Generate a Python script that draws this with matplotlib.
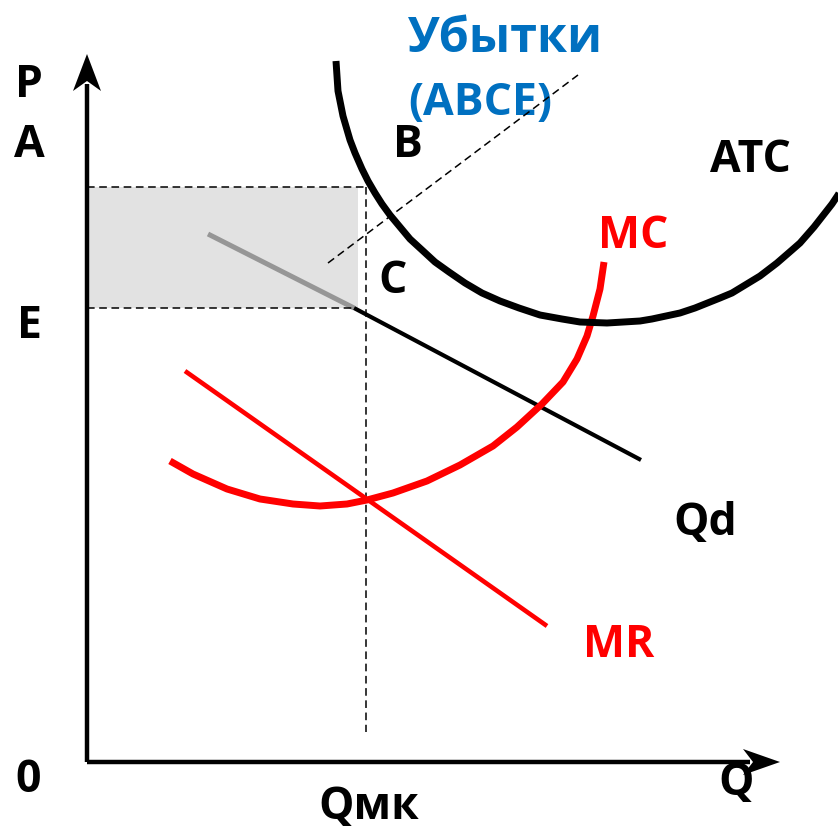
import matplotlib
matplotlib.use('Agg')
from matplotlib import pyplot as plt
from matplotlib.patches import Rectangle

plt.rcParams['font.family'] = ['Open Sans', 'DejaVu Sans']
plt.rcParams['font.weight'] = 'bold'

# кривая ATC (средние общие издержки), точки
atc_q = [249, 251, 256, 263, 268, 275, 281, 288, 295, 303, 313, 323, 335, 348,
         362, 378, 395, 413, 432, 453, 475, 493, 520, 553, 565, 593, 608, 633,
         645, 673, 690, 705, 713, 727, 745, 751, 759]
atc_p = [701, 671, 646, 622, 609, 593, 581, 569, 558, 547, 535, 523, 512, 500,
         490, 479, 469, 461, 454, 447, 443, 440, 439, 441, 443, 449, 454, 464,
         469, 486, 499, 512, 519, 535, 558, 567, 581]

# кривая MC (предельные издержки)
mc_q = [83, 106, 140, 173, 206, 233, 260, 280, 306, 340, 373, 406, 430, 455,
        476, 490, 500, 506, 513, 517]
mc_p = [301, 288, 273, 263, 258, 256, 258, 262, 269, 281, 297, 316, 335, 358,
        380, 403, 426, 446, 473, 500]

# MR (предельный доход)
mr_q = [98, 460]
mr_p = [391, 136]

# спрос Qd: серая часть внутри прямоугольника и чёрная дальше
qd_grey_q = [121, 267]
qd_grey_p = [528, 454]
qd_q = [267, 554]
qd_p = [454, 302]

# уровни: объём Qмк, цена A (ATC) и цена E
q_mk = 279
p_a = 575
p_e = 454
rect_right = 271

# пунктир-выноска к надписи "Убытки"
note_q = [241, 491]
note_p = [499, 687]

q_max = 693
p_max = 708

labels = [
    ('P', -72, 666, 'black'),
    ('A', -73, 606, 'black'),
    ('E', -70, 425, 'black'),
    ('0', -72, -29, 'black'),
    ('B', 306, 606, 'black'),
    ('C', 291, 470, 'black'),
    ('ATC', 623, 591, 'black'),
    ('MC', 511, 515, 'red'),
    ('Qd', 586, 228, 'black'),
    ('MR', 496, 106, 'red'),
    ('Q', 631, -32, 'black'),
    ('Qмк', 231, -56, 'black'),
]

fig = plt.figure(figsize=(8.38, 8.29), dpi=100)
ax = fig.add_axes([0, 0, 1, 1])
ax.set_xlim(-87, 751)
ax.set_ylim(-66, 763)
ax.axis('off')

# прямоугольник убытков ABCE
ax.add_patch(Rectangle((0, p_e), rect_right, p_a - p_e, facecolor='#e2e2e2',
                       edgecolor='none', zorder=1))
ax.plot([0, q_mk], [p_a, p_a], color='black', lw=1.1, dashes=(5, 3), zorder=3)
ax.plot([0, qd_q[0]], [p_e, p_e], color='black', lw=1.1, dashes=(5, 3), zorder=3)
ax.plot([q_mk, q_mk], [p_a, 30], color='black', lw=1.1, dashes=(5, 3), zorder=3)
ax.plot(note_q, note_p, color='black', lw=1.1, dashes=(5, 3), zorder=6)

# кривые
ax.plot(qd_grey_q, qd_grey_p, color='#969696', lw=3.6, solid_capstyle='butt', zorder=2)
ax.plot(qd_q, qd_p, color='black', lw=3.0, solid_capstyle='butt', zorder=2)
ax.plot(mr_q, mr_p, color='#ff0000', lw=3.3, solid_capstyle='butt', zorder=3)
ax.plot(mc_q, mc_p, color='#ff0000', lw=5, solid_capstyle='butt',
        solid_joinstyle='round', zorder=4)
ax.plot(atc_q, atc_p, color='black', lw=5, solid_capstyle='butt',
        solid_joinstyle='round', zorder=4)

# оси со стрелками
ax.plot([0, 0], [0, p_max - 30], color='black', lw=3.2, solid_capstyle='butt', zorder=5)
ax.plot([0, q_max - 30], [0, 0], color='black', lw=3.2, solid_capstyle='butt', zorder=5)
ax.fill([0, -14, 0, 14], [p_max, p_max - 37, p_max - 27, p_max - 37],
        color='black', lw=0, zorder=5)
ax.fill([q_max, q_max - 37, q_max - 27, q_max - 37], [0, 13, 0, -13],
        color='black', lw=0, zorder=5)

for text, q, p, col in labels:
    ax.text(q, p, text, color=col, fontsize=32, fontweight='bold',
            ha='left', va='baseline', zorder=4)

ax.text(321, 711, 'Убытки', color='#0070c0', fontsize=35, fontweight='bold',
        ha='left', va='baseline', zorder=4)
ax.text(321, 648, '(АВСЕ)', color='#0070c0', fontsize=32, fontweight='bold',
        ha='left', va='baseline', zorder=4)

fig.savefig('out.png', dpi=100)
